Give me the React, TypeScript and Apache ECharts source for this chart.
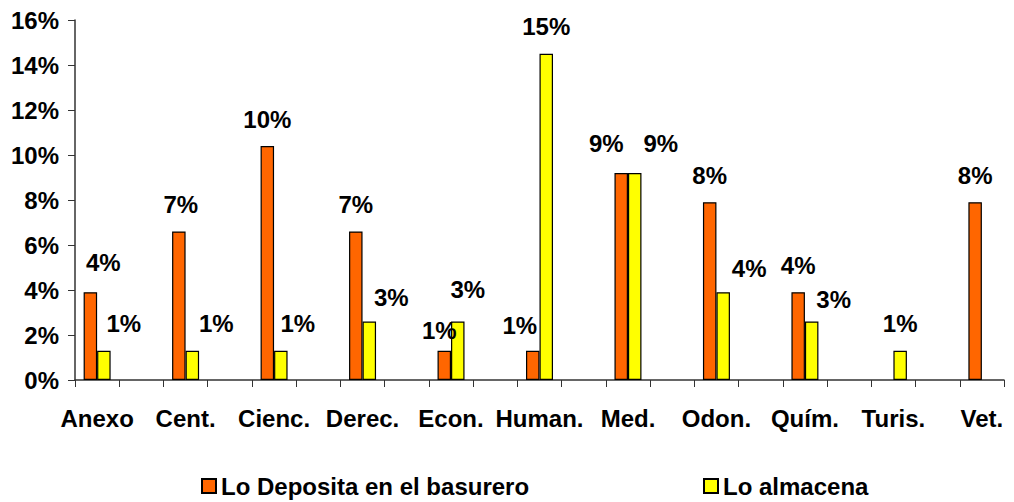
import React, { useEffect, useRef } from "react";
import * as echarts from "echarts";

const categories = ["Anexo", "Cent.", "Cienc.", "Derec.", "Econ.", "Human.", "Med.", "Odon.", "Quím.", "Turis.", "Vet."];
const depositaValues: (number | null)[] = [3.9, 6.6, 10.4, 6.6, 1.3, 1.3, 9.2, 7.9, 3.9, null, 7.9];
const almacenaValues: (number | null)[] = [1.3, 1.3, 1.3, 2.6, 2.6, 14.5, 9.2, 3.9, 2.6, 1.3, null];
const seriesNames = ["Lo Deposita en el basurero", "Lo almacena"];
const yTicks = { min: 0, max: 16, interval: 2 };

// label nudges [dx, dy] (presentation only)
const depositaLabelNudge = [[13, -3], [2, 0], [0, 0], [0, 0], [-5, 7], [-13, 2], [-15, -3], [0, 0], [0, 0], [0, 0], [0, 0]];
const almacenaLabelNudge = [[20, 0], [24, 0], [17, 0], [22, 3], [10, -5], [0, 0], [26, -3], [26, 3], [22, 5], [0, 0], [0, 0]];

const FONT = "'Liberation Sans', Arial, sans-serif";

function interleave<T>(arr: T[], blank: T): T[] {
  const out: T[] = [];
  arr.forEach((v, i) => {
    out.push(v);
    if (i < arr.length - 1) out.push(blank);
  });
  return out;
}

function buildData(values: (number | null)[], nudges: number[][]) {
  const items = values.map((v, i) =>
    v == null
      ? null
      : { value: v, label: { offset: [nudges[i][0], nudges[i][1]] } }
  );
  return interleave(items as any[], null);
}

export default function App() {
  const ref = useRef<HTMLDivElement>(null);
  useEffect(() => {
    if (!ref.current) return;
    const chart = echarts.init(ref.current, undefined, { renderer: "svg" });
    const labelStyle = {
      show: true,
      position: "top",
      distance: 15,
      fontFamily: FONT,
      fontWeight: "bold",
      fontSize: 24,
      color: "#000",
      formatter: (p: any) => Math.round(p.value) + "%",
    };
    const legendText = { fontFamily: FONT, fontWeight: "bold", fontSize: 24, lineHeight: 26, color: "#000" };
    chart.setOption({
      animation: false,
      backgroundColor: "#fff",
      grid: { left: 75, right: 10, top: 20, bottom: 122, containLabel: false },
      xAxis: {
        type: "category",
        data: interleave(categories, ""),
        boundaryGap: true,
        axisLine: { lineStyle: { color: "#333", width: 1.5 } },
        axisTick: { show: true, interval: 0, length: 7, lineStyle: { color: "#333" } },
        axisLabel: {
          interval: 0,
          margin: 26,
          fontFamily: FONT,
          fontWeight: "bold",
          fontSize: 24,
          color: "#000",
        },
        splitLine: { show: false },
      },
      yAxis: {
        type: "value",
        min: yTicks.min,
        max: yTicks.max,
        interval: yTicks.interval,
        axisLine: { show: true, lineStyle: { color: "#333", width: 1.5 } },
        axisTick: { show: true, length: 7, lineStyle: { color: "#333" } },
        axisLabel: {
          formatter: "{value}%",
          margin: 16,
          fontFamily: FONT,
          fontWeight: "bold",
          fontSize: 24,
          color: "#000",
        },
        splitLine: { show: false },
      },
      legend: [
        {
          top: 473,
          left: 201,
          padding: 0,
          itemWidth: 14,
          itemHeight: 14,
          itemGap: 6,
          icon: "rect",
          textStyle: legendText,
          data: [seriesNames[0]],
        },
        {
          top: 473,
          left: 703,
          padding: 0,
          itemWidth: 14,
          itemHeight: 14,
          icon: "rect",
          textStyle: legendText,
          data: [seriesNames[1]],
        },
      ],
      series: [
        {
          name: seriesNames[0],
          type: "bar",
          data: buildData(depositaValues, depositaLabelNudge),
          barWidth: 13.5,
          barGap: "0%",
          itemStyle: { color: "#FF6600", borderColor: "#000", borderWidth: 1.2 },
          label: labelStyle,
        },
        {
          name: seriesNames[1],
          type: "bar",
          data: buildData(almacenaValues, almacenaLabelNudge),
          barWidth: 13.5,
          barGap: "0%",
          itemStyle: { color: "#FFFF00", borderColor: "#000", borderWidth: 1.2 },
          label: labelStyle,
        },
      ],
    });
    return () => chart.dispose();
  }, []);
  return (
    <div
      ref={ref}
      style={{ position: "fixed", left: 0, top: 0, width: 1014, height: 502, background: "#fff" }}
    />
  );
}
